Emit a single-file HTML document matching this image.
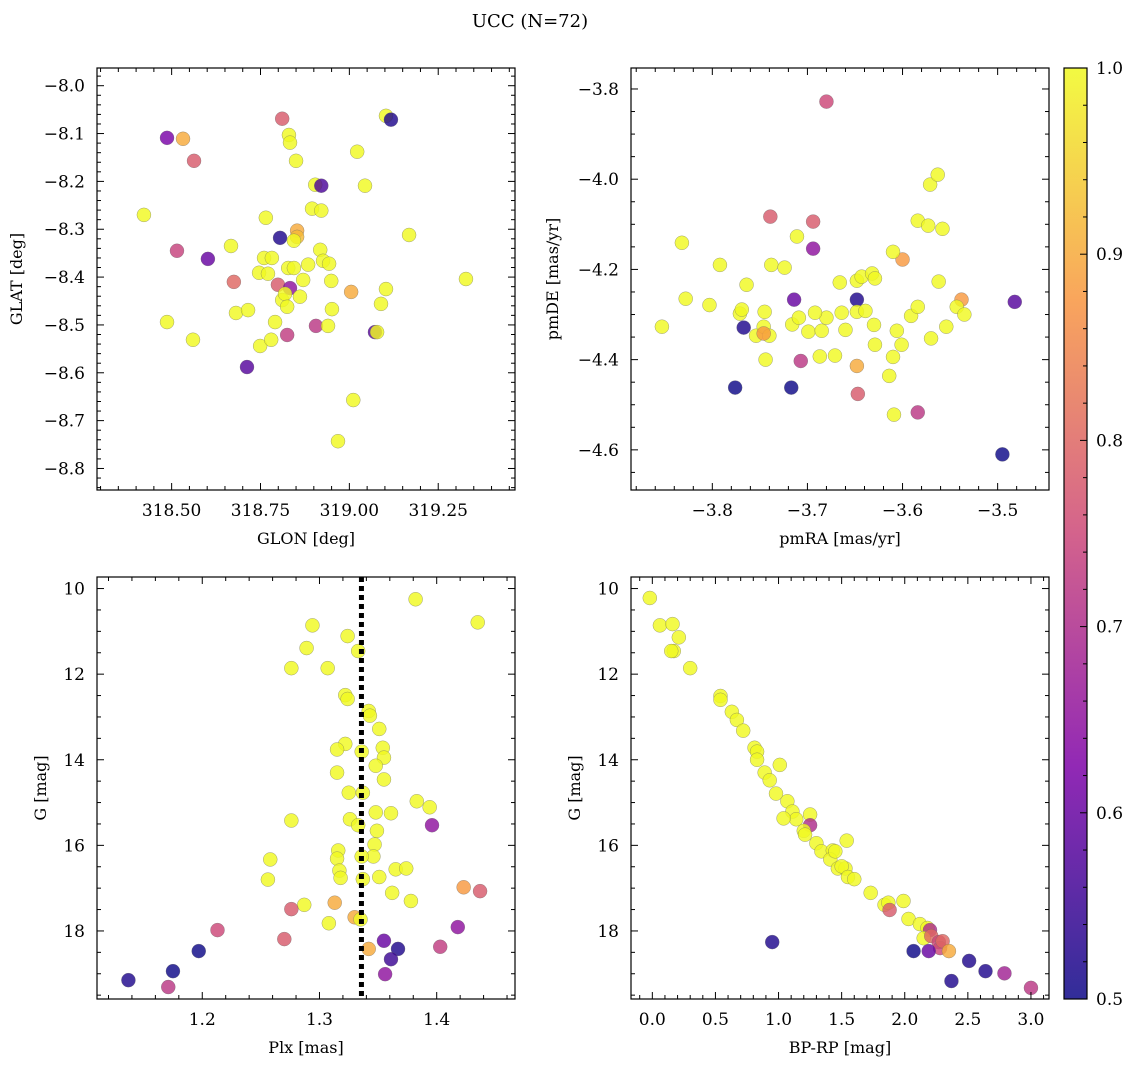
<!DOCTYPE html>
<html><head><meta charset="utf-8">
<style>
body{margin:0;background:#fff;}
svg{display:block;font-family:"DejaVu Serif","Liberation Serif",serif;}
</style></head>
<body>
<svg id="fig" width="1136" height="1067" viewBox="0 0 1136 1067">
<text x="530" y="27" font-size="18" text-anchor="middle">UCC (N=72)</text>
</svg>
<script>
// Panel 1: GLON vs GLAT
const p1x=[318.487,318.532,318.563,318.422,318.515,318.602,318.487,318.560,318.667,318.675,318.681,318.715,318.712,318.749,318.780,318.791,318.765,318.746,318.760,318.782,318.771,318.805,318.811,318.830,318.833,318.850,318.853,318.853,318.844,318.799,318.833,318.811,318.819,318.825,318.825,318.828,318.844,318.861,318.870,318.884,318.895,318.904,318.921,318.921,318.918,318.926,318.906,318.943,318.949,318.940,318.951,319.022,319.044,319.005,319.072,319.078,319.011,318.968,319.089,319.103,319.103,319.117,319.168,319.328];
const p1y=[-8.109,-8.111,-8.157,-8.270,-8.345,-8.362,-8.494,-8.531,-8.335,-8.410,-8.475,-8.469,-8.588,-8.544,-8.531,-8.494,-8.276,-8.391,-8.360,-8.360,-8.393,-8.318,-8.069,-8.103,-8.119,-8.157,-8.303,-8.316,-8.324,-8.416,-8.423,-8.448,-8.435,-8.462,-8.521,-8.381,-8.381,-8.441,-8.406,-8.374,-8.257,-8.207,-8.209,-8.261,-8.343,-8.366,-8.502,-8.372,-8.408,-8.502,-8.467,-8.138,-8.209,-8.431,-8.515,-8.515,-8.657,-8.743,-8.456,-8.425,-8.063,-8.071,-8.312,-8.404];
const p1p=[.62,.90,.78,1,.74,.60,1,1,1,.80,1,1,.58,1,1,1,1,1,1,1,1,.52,.78,1,1,1,.90,.92,1,.78,.65,1,1,1,.73,1,1,1,1,1,1,1,.57,1,1,1,.72,1,1,1,1,1,1,.90,.58,1,1,1,1,1,1,.52,1,1];
// Panel 2: pmRA vs pmDE
const p2x=[-3.680,-3.571,-3.563,-3.584,-3.573,-3.558,-3.739,-3.694,-3.694,-3.711,-3.832,-3.792,-3.738,-3.724,-3.600,-3.610,-3.562,-3.764,-3.828,-3.803,-3.853,-3.771,-3.769,-3.754,-3.745,-3.714,-3.746,-3.740,-3.746,-3.716,-3.709,-3.699,-3.685,-3.687,-3.671,-3.680,-3.692,-3.666,-3.648,-3.643,-3.632,-3.629,-3.648,-3.648,-3.664,-3.660,-3.639,-3.630,-3.629,-3.614,-3.610,-3.606,-3.601,-3.591,-3.584,-3.570,-3.554,-3.538,-3.543,-3.535,-3.482,-3.707,-3.744,-3.648,-3.647,-3.767,-3.776,-3.717,-3.609,-3.584,-3.495];
const p2y=[-3.828,-4.012,-3.990,-4.092,-4.103,-4.110,-4.083,-4.094,-4.154,-4.127,-4.141,-4.190,-4.190,-4.196,-4.178,-4.161,-4.227,-4.234,-4.265,-4.279,-4.327,-4.298,-4.289,-4.347,-4.294,-4.267,-4.327,-4.347,-4.342,-4.322,-4.307,-4.338,-4.336,-4.393,-4.391,-4.307,-4.296,-4.229,-4.225,-4.216,-4.209,-4.220,-4.267,-4.294,-4.296,-4.334,-4.292,-4.323,-4.367,-4.436,-4.394,-4.336,-4.367,-4.303,-4.283,-4.353,-4.327,-4.267,-4.283,-4.300,-4.272,-4.403,-4.400,-4.414,-4.476,-4.329,-4.462,-4.462,-4.522,-4.517,-4.610];
const p2p=[.75,1,1,1,1,1,.78,.78,.65,1,1,1,1,1,.88,1,1,1,1,1,1,1,1,1,1,.6,1,1,.88,1,1,1,1,1,1,1,1,1,1,1,1,1,.52,1,1,1,1,1,1,1,1,1,1,1,1,1,1,.88,1,1,.58,.72,1,.9,.78,.52,.5,.5,1,.72,.5];
// Panel 3: Plx vs G
const p3x=[1.382,1.435,1.294,1.324,1.289,1.333,1.276,1.307,1.322,1.324,1.342,1.343,1.351,1.322,1.354,1.315,1.336,1.355,1.348,1.315,1.355,1.337,1.325,1.383,1.394,1.396,1.348,1.361,1.326,1.333,1.276,1.349,1.316,1.347,1.346,1.336,1.315,1.317,1.318,1.258,1.256,1.365,1.351,1.337,1.374,1.378,1.362,1.287,1.313,1.276,1.330,1.335,1.308,1.270,1.423,1.437,1.418,1.213,1.403,1.355,1.367,1.342,1.361,1.356,1.197,1.175,1.137,1.171];
const p3y=[10.25,10.79,10.86,11.11,11.39,11.46,11.86,11.86,12.49,12.58,12.86,12.97,13.28,13.63,13.72,13.76,13.81,13.95,14.14,14.30,14.46,14.77,14.77,14.97,15.11,15.53,15.23,15.25,15.39,15.53,15.42,15.66,16.12,15.98,16.26,16.26,16.31,16.59,16.76,16.33,16.80,16.56,16.74,16.79,16.54,17.30,17.11,17.39,17.34,17.49,17.68,17.73,17.82,18.19,16.98,17.07,17.91,17.98,18.37,18.23,18.42,18.42,18.66,19.01,18.47,18.94,19.15,19.31];
const p3p=[1,1,1,1,1,1,1,1,1,1,1,1,1,1,1,1,1,1,1,1,1,1,1,1,1,.65,1,1,1,1,1,1,1,1,1,1,1,1,1,1,1,1,1,1,1,1,1,1,.9,.78,.9,1,1,.78,.88,.78,.65,.75,.73,.6,.52,.9,.55,.65,.5,.5,.52,.72];
const plxMean=[1.3358];
// Panel 4: BP-RP vs G
const p4x=[-0.02,0.06,0.16,0.21,0.17,0.15,0.30,0.54,0.54,0.63,0.67,0.72,0.81,0.83,0.83,1.01,0.89,0.93,0.98,1.07,1.11,1.14,1.04,1.25,1.25,1.20,1.30,1.21,1.34,1.43,1.41,1.45,1.54,1.47,1.53,1.50,1.55,1.60,1.73,1.84,1.87,1.88,1.99,2.03,2.12,2.18,2.20,2.15,2.21,2.27,2.28,2.30,2.35,2.19,2.07,0.95,2.51,2.64,2.79,2.37,3.00];
const p4y=[10.22,10.86,10.83,11.14,11.46,11.46,11.86,12.51,12.60,12.88,13.07,13.32,13.72,13.81,14.00,14.12,14.30,14.48,14.79,14.97,15.21,15.39,15.37,15.28,15.53,15.66,15.95,15.75,16.14,16.12,16.33,16.14,15.89,16.54,16.54,16.49,16.74,16.79,17.11,17.39,17.34,17.51,17.30,17.72,17.84,17.93,17.98,18.17,18.12,18.26,18.40,18.24,18.47,18.47,18.47,18.26,18.70,18.94,18.99,19.17,19.33];
const p4p=[1,1,1,1,1,1,1,1,1,1,1,1,1,1,1,1,1,1,1,1,1,1,1,1,.7,1,1,1,1,1,1,1,1,1,1,1,1,1,1,1,1,.78,1,1,1,1,.7,1,.8,.75,.75,.8,.9,.6,.5,.52,.52,.52,.68,.52,.72];
const cbTicks=[0.5,0.6,0.7,0.8,0.9,1.0];

const NS='http://www.w3.org/2000/svg';
const svg=document.getElementById('fig');
function mk(tag,attrs,parent){const e=document.createElementNS(NS,tag);for(const k in attrs)e.setAttribute(k,attrs[k]);(parent||svg).appendChild(e);return e;}
const stops=[[0,[13,8,135]],[0.25,[126,3,168]],[0.5,[204,71,120]],[0.75,[248,149,64]],[1,[240,249,33]]];
function plasma(t){t=Math.max(0,Math.min(1,t));for(let i=0;i<stops.length-1;i++){const a=stops[i],b=stops[i+1];if(t<=b[0]){const f=(t-a[0])/(b[0]-a[0]);const c=a[1].map((v,j)=>Math.round(v+(b[1][j]-v)*f));return `rgb(${c[0]},${c[1]},${c[2]})`;}}return 'rgb(240,249,33)';}
function pcol(p){return plasma((p-0.5)/0.5);}
const FS=17;

function panel(o){
  const g=mk('g',{});
  
  
  const X=v=>o.L+(v-o.x0)/(o.x1-o.x0)*(o.R-o.L);
  const Y=v=>o.T+(v-o.y0)/(o.y1-o.y0)*(o.B-o.T);
  const pts=mk('g',{},g);
  
  
  for(let i=0;i<o.xs.length;i++){
    const c=mk('circle',{cx:X(o.xs[i]),cy:Y(o.ys[i]),r:7,fill:pcol(o.ps[i]),'fill-opacity':0.82,stroke:'#666','stroke-width':0.5,'stroke-opacity':0.6},pts);
    
    
  }
  if(o.vline!==undefined){
    const l=mk('line',{x1:X(o.vline),x2:X(o.vline),y1:o.T,y2:o.B,stroke:'#000','stroke-width':5,'stroke-dasharray':'5,4'},g);
    
    
  }
  const f=mk('rect',{x:o.L,y:o.T,width:o.R-o.L,height:o.B-o.T,fill:'none',stroke:'#000','stroke-width':1.2},g);
  
  
  const ax=mk('g',{},g);
  
  
  const eps=1e-9;
  for(let v=Math.ceil(o.x0/o.xmin-eps)*o.xmin; v<=o.x1+eps; v+=o.xmin){
    const isMaj=Math.abs(v/o.xmaj-Math.round(v/o.xmaj))<1e-6;
    const len=isMaj?7:4, x=X(v);
    mk('line',{x1:x,x2:x,y1:o.B,y2:o.B-len,stroke:'#000','stroke-width':1},ax);
    mk('line',{x1:x,x2:x,y1:o.T,y2:o.T+len,stroke:'#000','stroke-width':1},ax);
  }
  o.xt.forEach(v=>{const t=mk('text',{x:X(v),y:o.B+26,'font-size':FS,'text-anchor':'middle'},ax);t.textContent=o.xf(v);
    });
  const xl=mk('text',{x:(o.L+o.R)/2,y:o.B+54,'font-size':16,'text-anchor':'middle'},g);xl.textContent=o.xlab;
  
  const ay=mk('g',{},g);
  
  
  const lo=Math.min(o.y0,o.y1),hi=Math.max(o.y0,o.y1);
  for(let v=Math.ceil(lo/o.ymin-eps)*o.ymin; v<=hi+eps; v+=o.ymin){
    const isMaj=Math.abs(v/o.ymaj-Math.round(v/o.ymaj))<1e-6;
    const len=isMaj?7:4, y=Y(v);
    mk('line',{x1:o.L,x2:o.L+len,y1:y,y2:y,stroke:'#000','stroke-width':1},ay);
    mk('line',{x1:o.R,x2:o.R-len,y1:y,y2:y,stroke:'#000','stroke-width':1},ay);
  }
  o.yt.forEach(v=>{const t=mk('text',{x:o.L-12,y:Y(v)+6,'font-size':FS,'text-anchor':'end'},ay);t.textContent=o.yf(v);
    });
  const yl=mk('text',{x:0,y:0,'font-size':16,'text-anchor':'middle',transform:`translate(${o.ylx},${(o.T+o.B)/2}) rotate(-90)`},g);yl.textContent=o.ylab;
  
}
const neg=(v,d)=>(v<0?'\u2212':'')+Math.abs(v).toFixed(d);
panel({name:'glon-glat-panel',L:97,R:515,T:68,B:490,x0:318.29,x1:319.466,y0:-7.963,y1:-8.845,xs:p1x,ys:p1y,ps:p1p,
  xmaj:0.25,xmin:0.05,ymaj:0.1,ymin:0.02,xt:[318.5,318.75,319.0,319.25],yt:[-8.0,-8.1,-8.2,-8.3,-8.4,-8.5,-8.6,-8.7,-8.8],
  xf:v=>v.toFixed(2),yf:v=>neg(v,1),xlab:'GLON [deg]',ylab:'GLAT [deg]',ylx:22});
panel({name:'pm-panel',L:631,R:1049,T:68,B:490,x0:-3.8855,x1:-3.446,y0:-3.7535,y1:-4.689,xs:p2x,ys:p2y,ps:p2p,
  xmaj:0.1,xmin:0.02,ymaj:0.2,ymin:0.05,xt:[-3.8,-3.7,-3.6,-3.5],yt:[-3.8,-4.0,-4.2,-4.4,-4.6],
  xf:v=>neg(v,1),yf:v=>neg(v,1),xlab:'pmRA [mas/yr]',ylab:'pmDE [mas/yr]',ylx:558});
panel({name:'plx-g-panel',L:97,R:515,T:577,B:999,x0:1.1102,x1:1.4668,y0:9.73,y1:19.59,xs:p3x,ys:p3y,ps:p3p,vline:plxMean[0],
  xmaj:0.1,xmin:0.02,ymaj:2,ymin:0.5,xt:[1.2,1.3,1.4],yt:[10,12,14,16,18],
  xf:v=>v.toFixed(1),yf:v=>String(v),xlab:'Plx [mas]',ylab:'G [mag]',ylx:46});
panel({name:'cmd-panel',L:631,R:1049,T:577,B:999,x0:-0.169,x1:3.143,y0:9.73,y1:19.59,xs:p4x,ys:p4y,ps:p4p,
  xmaj:0.5,xmin:0.1,ymaj:2,ymin:0.5,xt:[0,0.5,1,1.5,2,2.5,3],yt:[10,12,14,16,18],
  xf:v=>v.toFixed(1),yf:v=>String(v),xlab:'BP-RP [mag]',ylab:'G [mag]',ylx:580});

const cb=mk('g',{});


const defs=mk('defs',{},svg);
const gr=mk('linearGradient',{id:'pl',x1:0,y1:1,x2:0,y2:0},defs);
for(let i=0;i<=20;i++){mk('stop',{offset:i/20,'stop-color':plasma(i/20),'stop-opacity':0.85},gr);}
const CT=68,CB=999,CL=1064,CR=1087;
mk('rect',{x:CL,y:CT,width:CR-CL,height:CB-CT,fill:'url(#pl)',stroke:'#000','stroke-width':1.2},cb);
const CY=v=>CB-(v-0.5)/0.5*(CB-CT);
for(let v=0.5;v<=1.0001;v+=0.02){const maj=Math.abs(v*10-Math.round(v*10))<1e-6;
  mk('line',{x1:CR,x2:CR-(maj?7:4),y1:CY(v),y2:CY(v),stroke:'#000','stroke-width':1},cb);}
cbTicks.forEach(v=>{const t=mk('text',{x:CR+9,y:CY(v)+6,'font-size':FS},cb);t.textContent=v.toFixed(1);
  });
</script>
</body></html>
